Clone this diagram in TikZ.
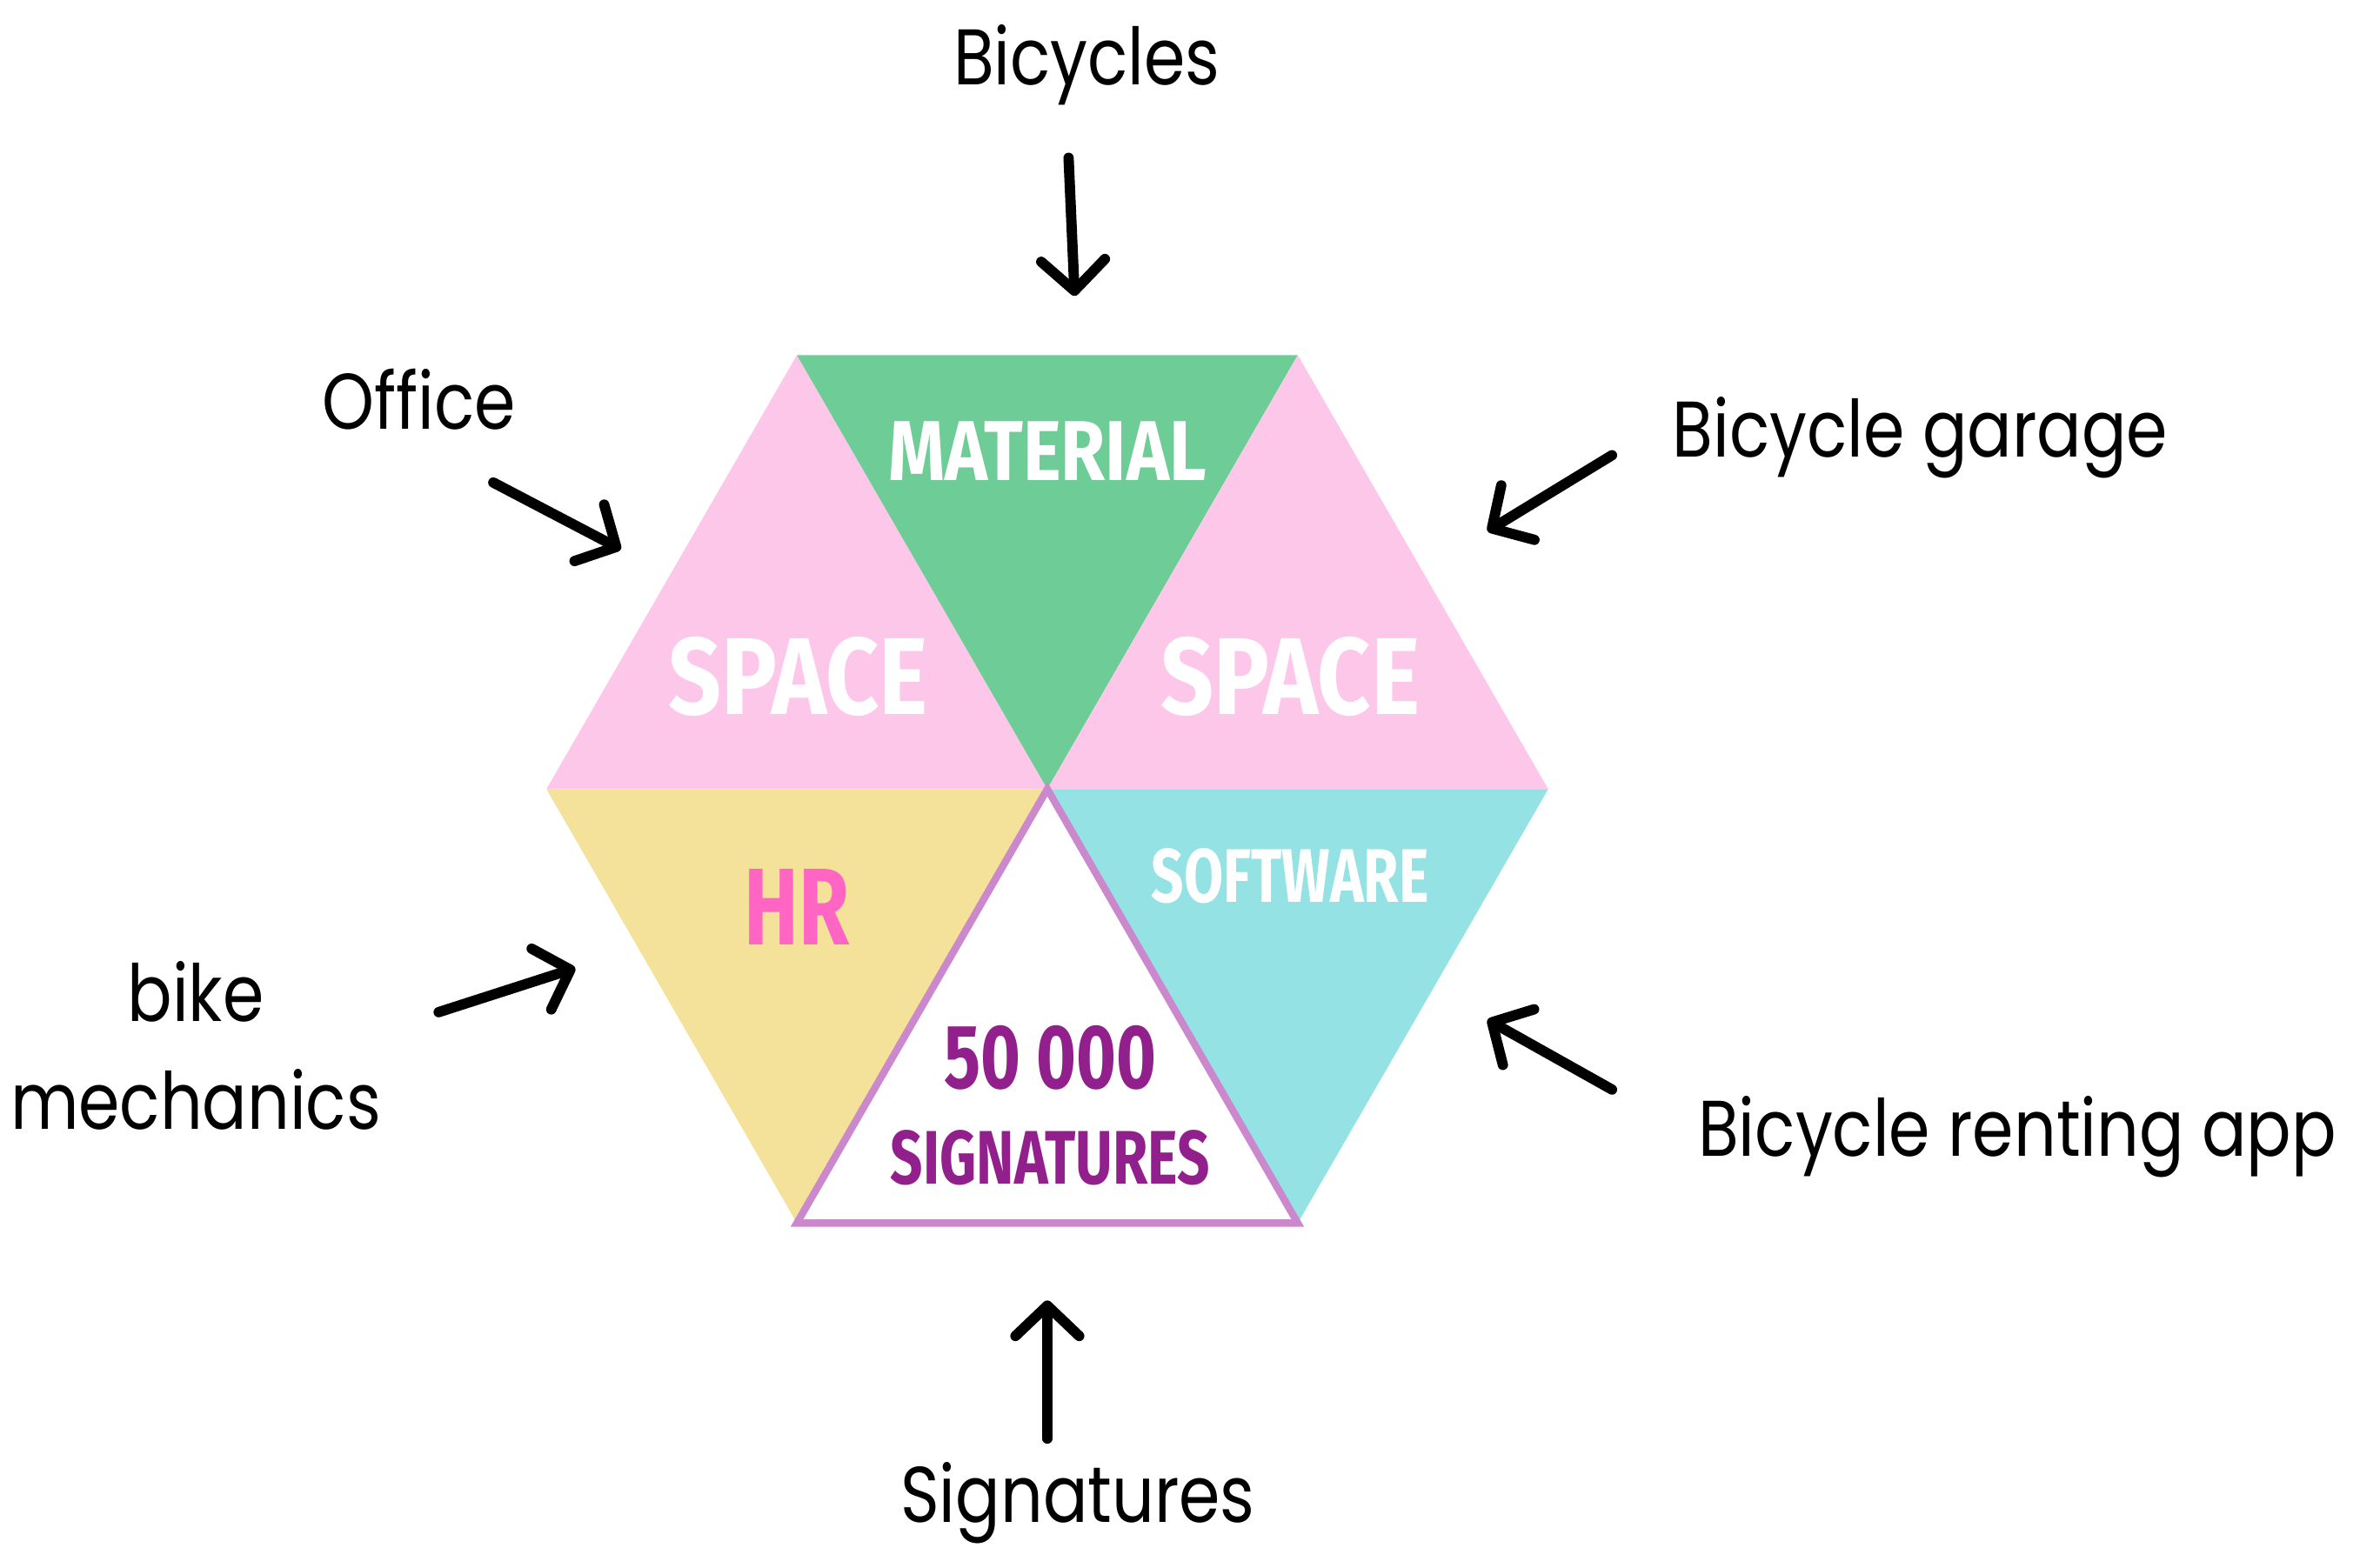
\documentclass[tikz,border=0pt]{standalone}
\usepackage{fontspec}
\setmainfont[FakeStretch=0.84]{Poppins}
\newfontfamily\headfont[FakeStretch=0.75]{Fira Sans}
\newfontfamily\headwide[FakeStretch=0.85]{Fira Sans}
\usetikzlibrary{arrows.meta}

\definecolor{spacepink}{RGB}{253,199,233}
\definecolor{materialgreen}{RGB}{110,204,150}
\definecolor{hryellow}{RGB}{244,226,154}
\definecolor{softcyan}{RGB}{149,226,229}
\definecolor{signline}{RGB}{204,136,204}
\definecolor{signpurple}{RGB}{146,32,140}
\definecolor{hrpink}{RGB}{255,102,196}

\tikzset{every picture/.style={line width=0.75pt}}
\tikzset{
  outer/.style={anchor=base,inner sep=0pt,font=\fontsize{26}{30}\selectfont},
  head/.style={inner sep=0pt,text=white,font=\headfont\bfseries},
  flow/.style={line width=3.4pt,line cap=round,
    -{Straight Barb[length=10pt,width=21pt,line cap=round,line join=round]}}
}

\begin{document}
\begin{tikzpicture}[x=0.5pt,y=0.5pt,yscale=-1,xscale=1]
    \useasboundingbox (0,0) rectangle (1568,1020);

    % hexagon corners
    \coordinate (hc) at (690,520);
    \coordinate (htl) at (525,234);
    \coordinate (htr) at (855,234);
    \coordinate (hr) at (1020,520);
    \coordinate (hbr) at (855,806);
    \coordinate (hbl) at (525,806);
    \coordinate (hl) at (360,520);

    % Triangles
    \fill [spacepink] (htl) -- (hl) -- (hc) -- cycle;
    \fill [materialgreen] (htl) -- (htr) -- (hc) -- cycle;
    \fill [spacepink] (htr) -- (hr) -- (hc) -- cycle;
    \fill [softcyan] (hr) -- (hbr) -- (hc) -- cycle;
    \fill [hryellow] (hl) -- (hbl) -- (hc) -- cycle;
    \draw [signline,fill=white,line width=2.4pt,line join=miter] (hc) -- (hbr) -- (hbl) -- cycle;

    % Triangle labels
    \node [head,font=\headwide\bfseries\fontsize{28}{30}\selectfont] (material) at (690,297) {MATERIAL};
    \node [head,font=\headwide\bfseries\fontsize{36}{40}\selectfont] (spaceleft) at (526,446) {SPACE};
    \node [head,font=\headwide\bfseries\fontsize{36}{40}\selectfont] (spaceright) at (850,446) {SPACE};
    \node [head,text=hrpink,font=\headfont\bfseries\fontsize{36}{40}\selectfont] (hr) at (525,598) {HR};
    \node [head,font=\headfont\bfseries\fontsize{25}{30}\selectfont] (software) at (850,577) {SOFTWARE};
    \node [head,text=signpurple,font=\headfont\bfseries\fontsize{30}{34}\selectfont] (count) at (692,697) {50 000};
    \node [head,text=signpurple,font=\headfont\bfseries\fontsize{25}{30}\selectfont] (signs) at (692,763) {SIGNATURES};

    % Text Node
    \node [outer] (bicycles) at (716,56) {Bicycles};
    \node [outer] (office) at (276,283) {Office};
    \node [outer] (garage) at (1265,301) {Bicycle garage};
    \node [outer] (bike) at (129,673) {bike};
    \node [outer] (mechanics) at (129,744) {mechanics};
    \node [outer] (app) at (1329,762) {Bicycle renting app};
    \node [outer] (signatures) at (710,1003) {Signatures};

    % Arrows
    \coordinate (a1) at (704,104);
    \coordinate (b1) at (708,195);
    \coordinate (a2) at (325,318);
    \coordinate (b2) at (409,362);
    \coordinate (a3) at (1062,300);
    \coordinate (b3) at (980,350);
    \coordinate (a4) at (289,667);
    \coordinate (b4) at (379,638);
    \coordinate (a5) at (1062,718);
    \coordinate (b5) at (980,672);
    \coordinate (a6) at (690,948);
    \coordinate (b6) at (690,857);
    \foreach \i in {1,...,6}
        \draw [flow] (a\i) -- (b\i);

\end{tikzpicture}
\end{document}
